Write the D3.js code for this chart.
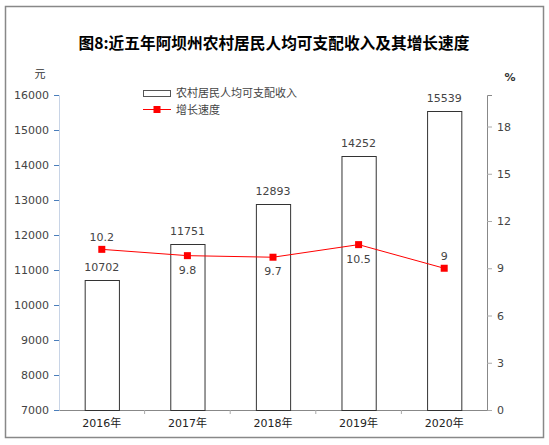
<!DOCTYPE html>
<html>
<head>
<meta charset="utf-8">
<script src="https://cdn.jsdelivr.net/npm/d3@7"></script>
<style>
  body { margin: 0; background: #fff; }
  text { font-family: "DejaVu Sans", "Noto Sans CJK SC", sans-serif; }
</style>
</head>
<body>
<script>
// Data
let years = ["2016年", "2017年", "2018年", "2019年", "2020年"];
let income = [10702, 11751, 12893, 14252, 15539];
let growth = [10.2, 9.8, 9.7, 10.5, 9];
let leftTicks = [7000, 8000, 9000, 10000, 11000, 12000, 13000, 14000, 15000, 16000];
let rightTicks = [0, 3, 6, 9, 12, 15, 18];
// label above (-1) or below (+1) the point
let growthLabelSide = [-1, 1, 1, 1, -1];

let width = 549;
let height = 445;
let plotLeft = 59, plotRight = 487, plotTop = 95, plotBottom = 410;

let svg = d3.select("body")
  .append("svg")
  .attr("width", width)
  .attr("height", height);

// outer frame
svg.append("rect")
  .attr("x", 5.5).attr("y", 6.5)
  .attr("width", 538).attr("height", 431)
  .attr("fill", "none")
  .attr("stroke", "#888")
  .attr("stroke-width", 1.5);

// title
svg.append("text")
  .attr("x", 274).attr("y", 49)
  .attr("text-anchor", "middle")
  .style("font-family", "'Noto Sans CJK SC', sans-serif")
  .style("font-weight", "bold")
  .style("font-size", "15.7px")
  .text("图8:近五年阿坝州农村居民人均可支配收入及其增长速度");

let x = d3.scaleBand().domain(years).range([plotLeft, plotRight]);
let yLeft = d3.scaleLinear().domain([7000, 16000]).range([plotBottom, plotTop]);
let yRight = d3.scaleLinear().domain([0, 20]).range([plotBottom, plotTop]);

// left axis
let leftAxis = svg.append("g")
  .attr("transform", `translate(${plotLeft},0)`)
  .call(d3.axisLeft(yLeft).tickValues(leftTicks).tickSize(5).tickPadding(5).tickFormat(d3.format("d")));
leftAxis.select(".domain").attr("stroke", "#c8d4e6");
leftAxis.selectAll(".tick line").attr("stroke", "#4a7ebb");
leftAxis.selectAll(".tick text").attr("fill", "#444").style("font-size", "11px");

// right axis
let rightAxis = svg.append("g")
  .attr("transform", `translate(${plotRight},0)`)
  .call(d3.axisRight(yRight).tickValues(rightTicks).tickSize(5).tickPadding(5));
rightAxis.select(".domain").attr("stroke", "#888");
rightAxis.selectAll(".tick line").attr("stroke", "#aaa");
rightAxis.selectAll(".tick text").attr("fill", "#444").style("font-size", "11px");

// bottom axis
let bottomAxis = svg.append("g")
  .attr("transform", `translate(0,${plotBottom})`)
  .call(d3.axisBottom(x).tickSize(0).tickPadding(9));
bottomAxis.select(".domain").attr("stroke", "#888");
bottomAxis.selectAll(".tick text")
  .attr("fill", "#222")
  .style("font-size", "11px");
// tick marks between categories
svg.append("g")
  .selectAll("line")
  .data(years.slice(1))
  .enter()
  .append("line")
  .attr("x1", d => x(d)).attr("x2", d => x(d))
  .attr("y1", plotBottom).attr("y2", plotBottom + 4)
  .attr("stroke", "#aaa");

// unit labels
svg.append("text")
  .attr("x", 40).attr("y", 78)
  .attr("text-anchor", "middle")
  .style("font-family", "'Noto Sans CJK SC', sans-serif")
  .style("font-size", "11px")
  .attr("fill", "#333")
  .text("元");
svg.append("text")
  .attr("x", 510).attr("y", 81)
  .attr("text-anchor", "middle")
  .style("font-size", "11px")
  .style("font-weight", "bold")
  .attr("fill", "#333")
  .text("%");

// bars
let barW = x.bandwidth() * 0.4;
svg.append("g")
  .selectAll("rect")
  .data(income)
  .enter()
  .append("rect")
  .attr("x", (d, i) => x(years[i]) + (x.bandwidth() - barW) / 2 + 0.5)
  .attr("y", d => Math.round(yLeft(d)) + 0.5)
  .attr("width", barW)
  .attr("height", d => plotBottom - Math.round(yLeft(d)))
  .attr("fill", "#fff")
  .attr("stroke", "#333")
  .attr("stroke-width", 1);

// bar labels
svg.append("g")
  .selectAll("text")
  .data(income)
  .enter()
  .append("text")
  .attr("x", (d, i) => x(years[i]) + x.bandwidth() / 2)
  .attr("y", d => yLeft(d) - 9)
  .attr("text-anchor", "middle")
  .style("font-size", "11px")
  .attr("fill", "#444")
  .text(d => d);

// growth line
let cx = (d, i) => x(years[i]) + x.bandwidth() / 2;
let line = d3.line()
  .x(cx)
  .y(d => yRight(d));
svg.append("path")
  .datum(growth)
  .attr("d", line)
  .attr("fill", "none")
  .attr("stroke", "#ff0000")
  .attr("stroke-width", 1);

svg.append("g")
  .selectAll("rect")
  .data(growth)
  .enter()
  .append("rect")
  .attr("x", (d, i) => cx(d, i) - 3.5)
  .attr("y", d => yRight(d) - 3.5)
  .attr("width", 7).attr("height", 7)
  .attr("fill", "#ff0000");

svg.append("g")
  .selectAll("text")
  .data(growth)
  .enter()
  .append("text")
  .attr("x", cx)
  .attr("y", (d, i) => yRight(d) + (growthLabelSide[i] < 0 ? -8 : 18))
  .attr("text-anchor", "middle")
  .style("font-size", "11px")
  .attr("fill", "#444")
  .text(d => d);

// legend
let legend = svg.append("g").attr("transform", "translate(143,0)");
legend.append("rect")
  .attr("x", 0.5).attr("y", 90.5)
  .attr("width", 27).attr("height", 6)
  .attr("fill", "#fff")
  .attr("stroke", "#555");
legend.append("text")
  .attr("x", 33).attr("y", 97)
  .style("font-family", "'Noto Sans CJK SC', sans-serif")
  .style("font-size", "11px")
  .attr("fill", "#444")
  .text("农村居民人均可支配收入");
legend.append("line")
  .attr("x1", 0).attr("x2", 28)
  .attr("y1", 109.5).attr("y2", 109.5)
  .attr("stroke", "#ff0000");
legend.append("rect")
  .attr("x", 10.5).attr("y", 106)
  .attr("width", 7).attr("height", 7)
  .attr("fill", "#ff0000");
legend.append("text")
  .attr("x", 33).attr("y", 114)
  .style("font-family", "'Noto Sans CJK SC', sans-serif")
  .style("font-size", "11px")
  .attr("fill", "#444")
  .text("增长速度");
</script>
</body>
</html>
